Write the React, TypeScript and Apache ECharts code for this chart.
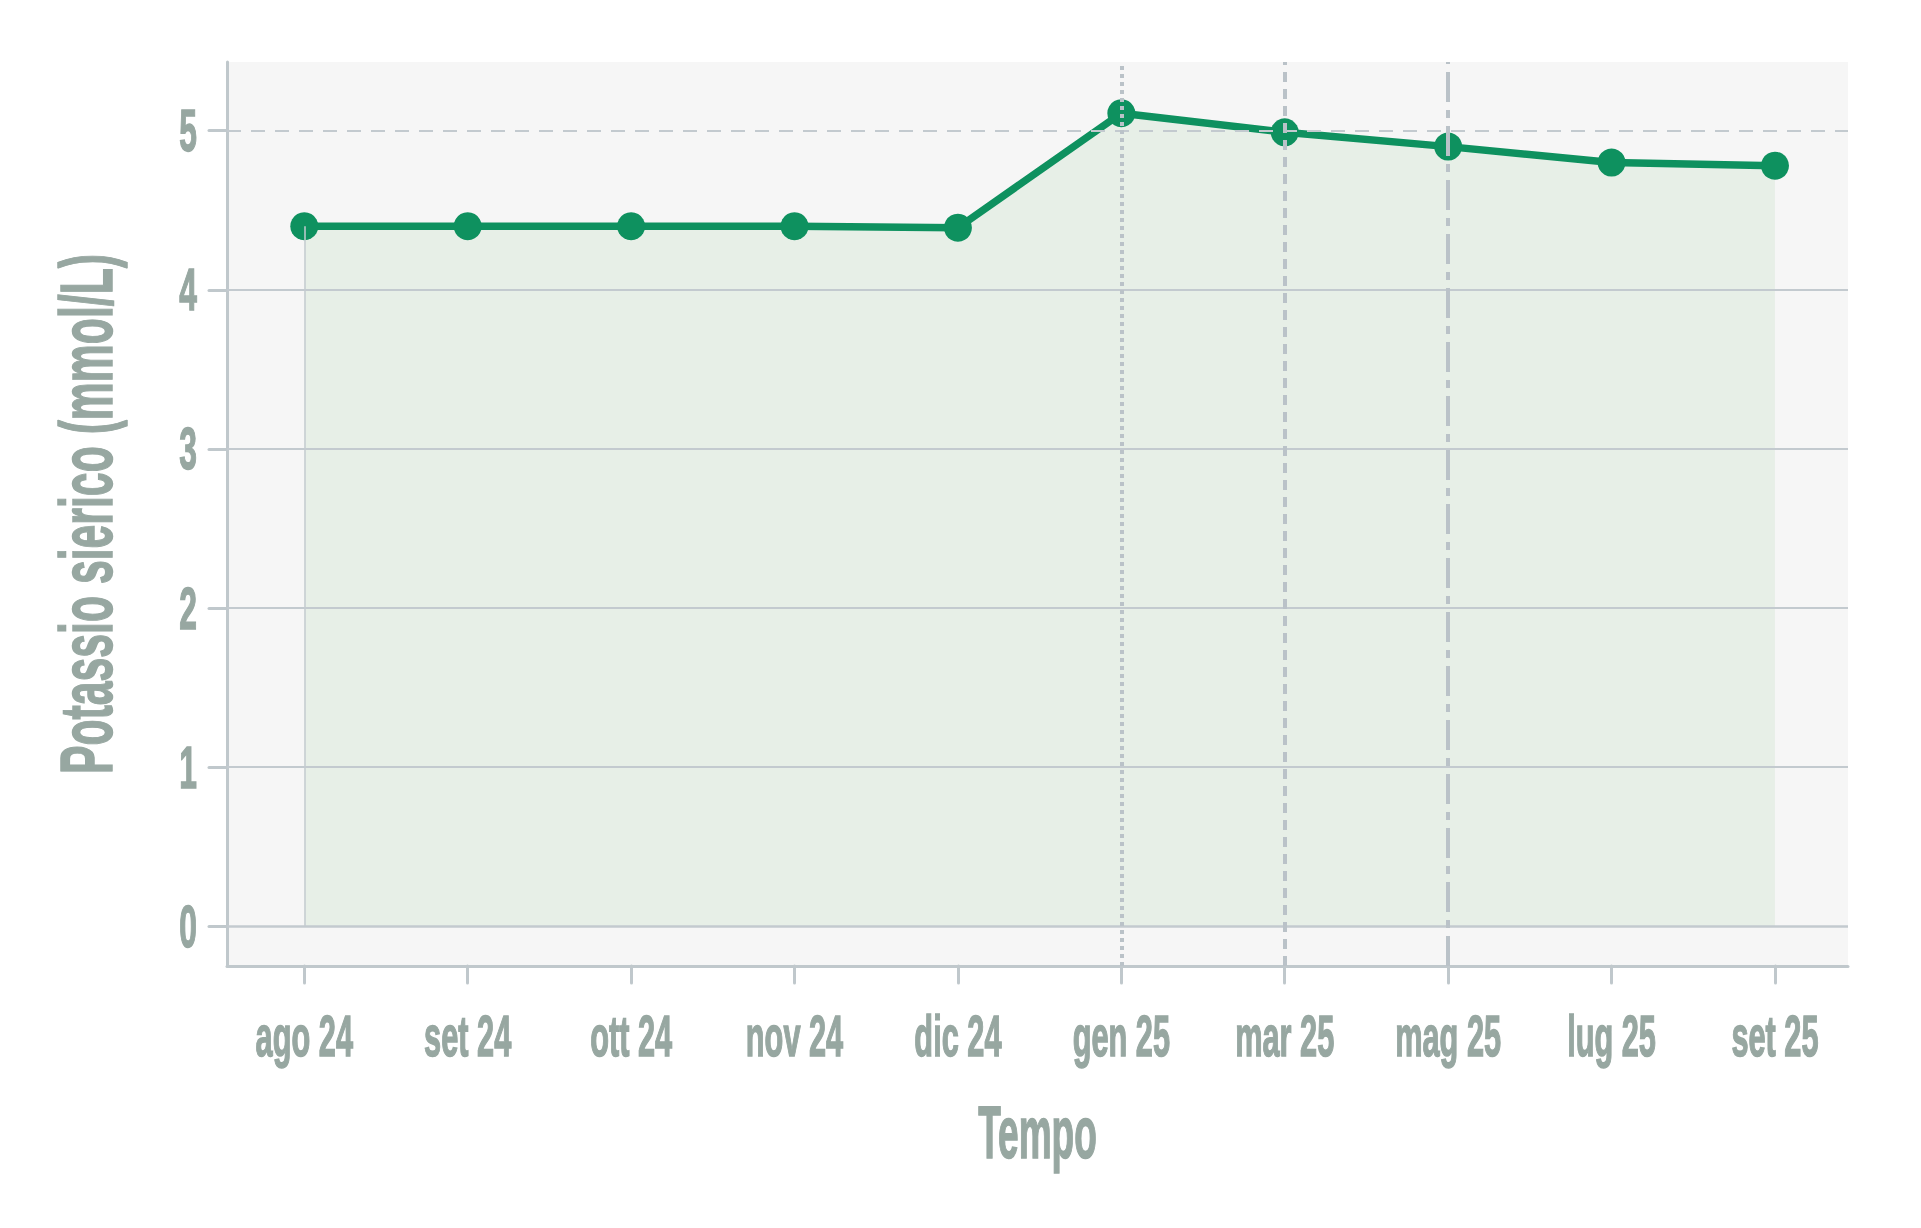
import * as echarts from 'echarts'
import { useEffect, useRef } from 'react'

// mesi (asse x) e potassio sierico in mmol/L
const months = ['ago 24', 'set 24', 'ott 24', 'nov 24', 'dic 24', 'gen 25', 'mar 25', 'mag 25', 'lug 25', 'set 25']
const potassium = [4.4, 4.4, 4.4, 4.4, 4.39, 5.11, 4.99, 4.9, 4.8, 4.78]
const yTicks = [0, 1, 2, 3, 4, 5]
const xTicks = months.map((_, i) => i)

const X_MIN = -0.473
const X_MAX = 9.447
const Y_MIN = -0.2515
const Y_MAX = 5.432

const textColor = '#97a7a1'
const lineGray = '#c0c8cc'
const green = '#0e915f'
// nessun font condensato installato: Liberation Sans Bold schiacciato in orizzontale
const font = '"Liberation Sans", Arial, sans-serif'

function useChart() {
  const ref = useRef<HTMLDivElement>(null)

  useEffect(() => {
    if (!ref.current) return
    document.body.style.margin = '0'
    const chart = echarts.init(ref.current, null, { renderer: 'svg' })

    const points = potassium.map((v, i) => [i, v])

    // linee orizzontali di griglia (5 tratteggiata)
    const hLines = yTicks.map((v) => ({
      yAxis: v,
      lineStyle: {
        color: '#c3cacf',
        width: v === 0 ? 2.5 : 2,
        type: v === 5 ? [14, 10] : 'solid',
      },
    }))

    // linee verticali di riferimento
    const vLines = [
      { xAxis: 5, lineStyle: { color: '#bac2c8', width: 4, type: [4, 4] } },
      { xAxis: 6, lineStyle: { color: '#bac2c8', width: 4, type: [10, 7] } },
      { xAxis: 7, lineStyle: { color: '#bac2c8', width: 4, type: [30, 8, 8, 8] } },
    ]

    chart.setOption({
      animation: false,
      grid: {
        left: 227,
        right: 73,
        top: 62,
        bottom: 262,
        show: true,
        backgroundColor: '#f6f6f6',
        borderWidth: 0,
      },
      xAxis: {
        type: 'value',
        min: X_MIN,
        max: X_MAX,
        axisLine: { show: true, onZero: false, lineStyle: { color: lineGray, width: 3 } },
        axisTick: {
          show: true,
          length: 17,
          customValues: xTicks,
          lineStyle: { color: lineGray, width: 3, cap: 'round' },
        },
        axisLabel: { show: false },
        splitLine: { show: false },
      },
      yAxis: {
        type: 'value',
        min: Y_MIN,
        max: Y_MAX,
        axisLine: { show: true, onZero: false, lineStyle: { color: lineGray, width: 3 } },
        axisTick: {
          show: true,
          length: 18,
          customValues: yTicks,
          lineStyle: { color: lineGray, width: 3, cap: 'round' },
        },
        axisLabel: { show: false },
        splitLine: { show: false },
      },
      series: [
        {
          // area sotto la curva
          type: 'line',
          z: 1,
          data: points,
          showSymbol: false,
          lineStyle: { width: 0 },
          areaStyle: { color: '#e7efe7', opacity: 1 },
          silent: true,
        },
        {
          // griglia e riferimenti sopra l'area
          type: 'line',
          z: 2,
          data: [],
          silent: true,
          markLine: {
            silent: true,
            symbol: 'none',
            label: { show: false },
            data: [
              ...hLines,
              ...vLines,
              [
                { coord: [0, potassium[0]], lineStyle: { color: '#c5cbd0', width: 1.5, type: 'solid' } },
                { coord: [0, 0] },
              ],
            ],
          },
        },
        {
          type: 'line',
          z: 3,
          data: points,
          symbol: 'circle',
          symbolSize: 28,
          showSymbol: true,
          itemStyle: { color: green, borderWidth: 0 },
          lineStyle: { color: green, width: 7.5 },
        },
      ],
    })

    // etichette e titoli: testo vero, posizionato con le scale del grafico
    const toPx = (x: number, y: number) => chart.convertToPixel({ gridIndex: 0 }, [x, y]) as number[]
    const txt = (text: string, x: number, y: number, size: number, sx: number, align: string, extra = {}) => ({
      type: 'text',
      x,
      y,
      scaleX: sx,
      silent: true,
      ...extra,
      style: {
        text,
        fill: textColor,
        stroke: textColor,
        lineWidth: 1.5,
        fontSize: size,
        fontWeight: 'bold',
        fontFamily: font,
        align,
        verticalAlign: 'middle',
      },
    })

    const [left, bottom] = toPx(X_MIN, Y_MIN)
    const [right, top] = toPx(X_MAX, Y_MAX)

    chart.setOption({
      graphic: [
        ...months.map((m, i) => txt(m, toPx(i, Y_MIN)[0], bottom + 70, 58, 0.53, 'center')),
        ...yTicks.map((v) => txt(String(v), left - 30, toPx(X_MIN, v)[1], 60, 0.53, 'right')),
        txt('Tempo', (left + right) / 2, bottom + 166, 74, 0.5, 'center'),
        txt('Potassio sierico (mmol/L)', left - 141, (top + bottom) / 2, 75, 0.57, 'center', {
          rotation: Math.PI / 2,
        }),
      ],
    })

    return () => {
      chart.dispose()
    }
  }, [])

  return ref
}

export default function App() {
  const ref = useChart()
  return <div ref={ref} style={{ position: 'fixed', left: 0, top: 0, width: 1921, height: 1228 }} />
}
